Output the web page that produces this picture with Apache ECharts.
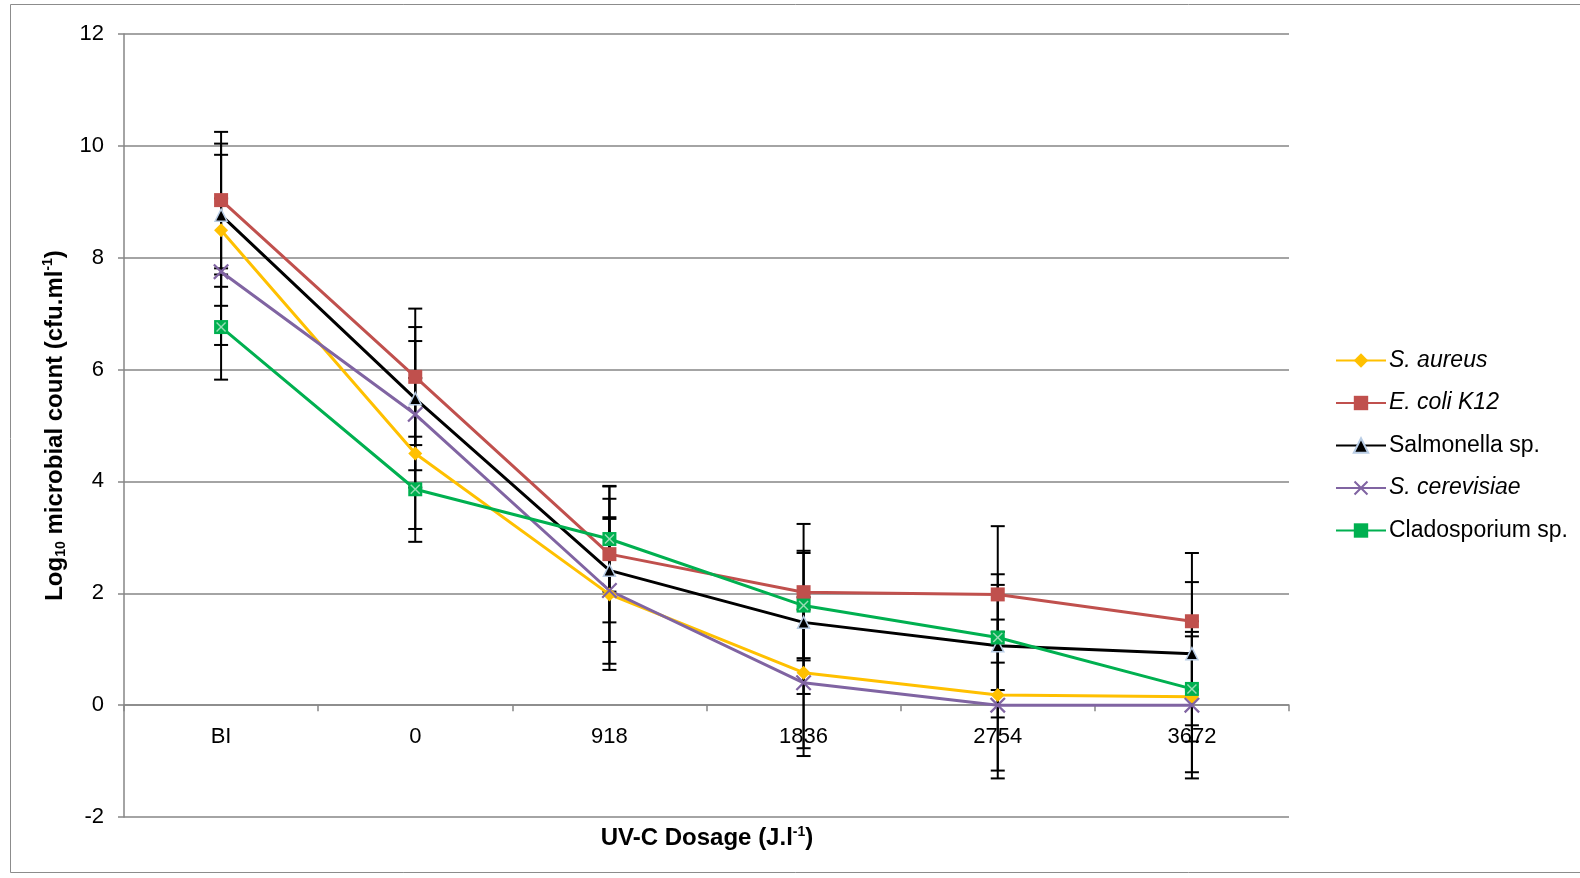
<!DOCTYPE html>
<html>
<head>
<meta charset="utf-8">
<script src="https://cdn.jsdelivr.net/npm/echarts@6/dist/echarts.min.js"></script>
<style>
  html, body { margin: 0; padding: 0; background: #fff; }
  #chart { width: 1580px; height: 878px; }
</style>
</head>
<body>
<div id="chart"></div>
<script>
// dose categories
const doses = ['BI', '0', '918', '1836', '2754', '3672']

// log10 counts
const sAureus = [8.49, 4.50, 1.98, 0.58, 0.18, 0.15]
const eColi = [9.03, 5.87, 2.70, 2.02, 1.98, 1.50]
const salmonella = [8.76, 5.48, 2.41, 1.48, 1.06, 0.92]
const sCerevisiae = [7.75, 5.20, 2.05, 0.40, 0.00, 0.00]
const cladosporium = [6.76, 3.86, 2.97, 1.78, 1.21, 0.29]

// error bar half-widths
const errAureus = [1.35, 1.35, 1.35, 1.35, 1.35, 1.35]
const errColi = [1.22, 1.22, 1.22, 1.22, 1.22, 1.22]
const errSalmonella = [1.28, 1.28, 1.28, 1.28, 1.28, 1.28]
const errCerevisiae = [1.31, 1.31, 1.31, 1.31, 1.31, 1.31]
const errClado = [0.94, 0.94, 0.94, 0.94, 0.94, 0.94]

const yTicks = [-2, 0, 2, 4, 6, 8, 10, 12]

const FONT = '"Liberation Sans", Arial, sans-serif'
const X_PATH = 'path://M0,1 L1,0 L5,4 L9,0 L10,1 L6,5 L10,9 L9,10 L5,6 L1,10 L0,9 L4,5 Z'

function errorData(vals, errs) {
  return vals.map((v, i) => [i, v - errs[i], v + errs[i]])
}

function renderError(params, api) {
  const lo = api.coord([api.value(0), api.value(1)])
  const hi = api.coord([api.value(0), api.value(2)])
  const w = 7
  const style = { stroke: '#000', lineWidth: 2 }
  return {
    type: 'group',
    children: [
      { type: 'line', shape: { x1: lo[0], y1: lo[1], x2: hi[0], y2: hi[1] }, style },
      { type: 'line', shape: { x1: hi[0] - w, y1: hi[1], x2: hi[0] + w, y2: hi[1] }, style },
      { type: 'line', shape: { x1: lo[0] - w, y1: lo[1], x2: lo[0] + w, y2: lo[1] }, style },
    ],
  }
}

function errSeries(vals, errs) {
  return {
    type: 'custom',
    renderItem: renderError,
    data: errorData(vals, errs),
    z: 1,
    silent: true,
  }
}

const chart = echarts.init(document.getElementById('chart'))

chart.setOption({
  animation: false,
  textStyle: { fontFamily: FONT },
  graphic: [
    {
      type: 'rect',
      shape: { x: 10.5, y: 4.5, width: 1600, height: 868 },
      style: { fill: 'none', stroke: '#8c8c8c', lineWidth: 1 },
      silent: true,
    },
    {
      // x axis title under the plot
      type: 'text',
      x: 707,
      y: 825,
      style: {
        text: '{b|UV-C Dosage (J.l}{sup|-1}{b|)}',
        align: 'center',
        rich: {
          b: { fontFamily: FONT, fontSize: 24, fontWeight: 'bold', fill: '#000', lineHeight: 27 },
          sup: { fontFamily: FONT, fontSize: 14, fontWeight: 'bold', fill: '#000', verticalAlign: 'top', lineHeight: 27 },
        },
      },
      silent: true,
    },
  ],
  grid: { left: 124, right: 291, top: 34, bottom: 61, outerBoundsMode: 'none' },
  legend: {
    orient: 'vertical',
    left: 1330,
    top: 344,
    itemWidth: 50,
    itemHeight: 18,
    itemGap: 19.5,
    data: ['S. aureus', 'E. coli K12', 'Salmonella sp.', 'S. cerevisiae', 'Cladosporium sp.'],
    formatter: (name) => {
      if (name === 'Salmonella sp.' || name === 'Cladosporium sp.') return '{n|' + name + '}'
      return '{i|' + name + '}'
    },
    textStyle: {
      fontFamily: FONT,
      fontSize: 23,
      color: '#000',
      padding: [0, 0, 0, -2],
      rich: {
        i: { fontFamily: FONT, fontSize: 23, fontStyle: 'italic', color: '#000', lineHeight: 24 },
        n: { fontFamily: FONT, fontSize: 23, color: '#000', lineHeight: 24 },
      },
    },
  },
  xAxis: {
    type: 'category',
    data: doses,
    boundaryGap: true,
    axisLine: { onZero: true, lineStyle: { color: '#868686', width: 1.5 } },
    axisTick: { show: true, length: 6, lineStyle: { color: '#868686', width: 1.5 } },
    axisLabel: { color: '#000', fontSize: 22, fontFamily: FONT, margin: -91 },
    splitLine: { show: false },
  },
  yAxis: {
    type: 'value',
    min: yTicks[0],
    max: yTicks[yTicks.length - 1],
    interval: 2,
    axisLine: { show: true, onZero: false, lineStyle: { color: '#868686', width: 1.5 } },
    axisTick: { show: true, length: 6, lineStyle: { color: '#868686', width: 1.5 } },
    axisLabel: { color: '#000', fontSize: 22, fontFamily: FONT, margin: 20 },
    splitLine: { lineStyle: { color: '#868686', width: 1.5 } },
    name: '{b|Log}{sub|10}{b| microbial count (cfu.ml}{sup|-1}{b|)}',
    nameLocation: 'middle',
    nameRotate: 90,
    nameGap: 46,
    nameTextStyle: {
      rich: {
        b: { fontFamily: FONT, fontSize: 24, fontWeight: 'bold', color: '#000', lineHeight: 27 },
        sub: { fontFamily: FONT, fontSize: 14, fontWeight: 'bold', color: '#000', verticalAlign: 'bottom', lineHeight: 27 },
        sup: { fontFamily: FONT, fontSize: 14, fontWeight: 'bold', color: '#000', verticalAlign: 'top', lineHeight: 27 },
      },
    },
  },
  series: [
    errSeries(sAureus, errAureus),
    errSeries(eColi, errColi),
    errSeries(salmonella, errSalmonella),
    errSeries(sCerevisiae, errCerevisiae),
    errSeries(cladosporium, errClado),
    {
      name: 'S. aureus',
      type: 'line',
      data: sAureus,
      symbol: 'diamond',
      symbolSize: 14,
      z: 3,
      lineStyle: { color: '#FFC000', width: 3 },
      itemStyle: { color: '#FFC000' },
    },
    {
      name: 'E. coli K12',
      type: 'line',
      data: eColi,
      symbol: 'rect',
      symbolSize: 14,
      z: 3,
      lineStyle: { color: '#C0504D', width: 3 },
      itemStyle: { color: '#C0504D' },
    },
    {
      name: 'Salmonella sp.',
      type: 'line',
      data: salmonella,
      symbol: 'triangle',
      symbolSize: 12,
      z: 3,
      lineStyle: { color: '#000', width: 3 },
      itemStyle: { color: '#000', borderColor: '#B9CDE5', borderWidth: 1.5 },
    },
    {
      name: 'S. cerevisiae',
      type: 'line',
      data: sCerevisiae,
      symbol: X_PATH,
      symbolSize: 16,
      z: 3,
      lineStyle: { color: '#8064A2', width: 3 },
      itemStyle: { color: '#8064A2' },
    },
    {
      name: 'Cladosporium sp.',
      type: 'line',
      data: cladosporium,
      symbol: 'rect',
      symbolSize: 14,
      z: 3,
      lineStyle: { color: '#00B050', width: 3 },
      itemStyle: { color: '#00B050' },
    },
    {
      type: 'scatter',
      data: cladosporium,
      symbol: X_PATH,
      symbolSize: 10,
      z: 4,
      silent: true,
      itemStyle: { color: '#BFE9CF' },
    },
  ],
})
</script>
</body>
</html>
